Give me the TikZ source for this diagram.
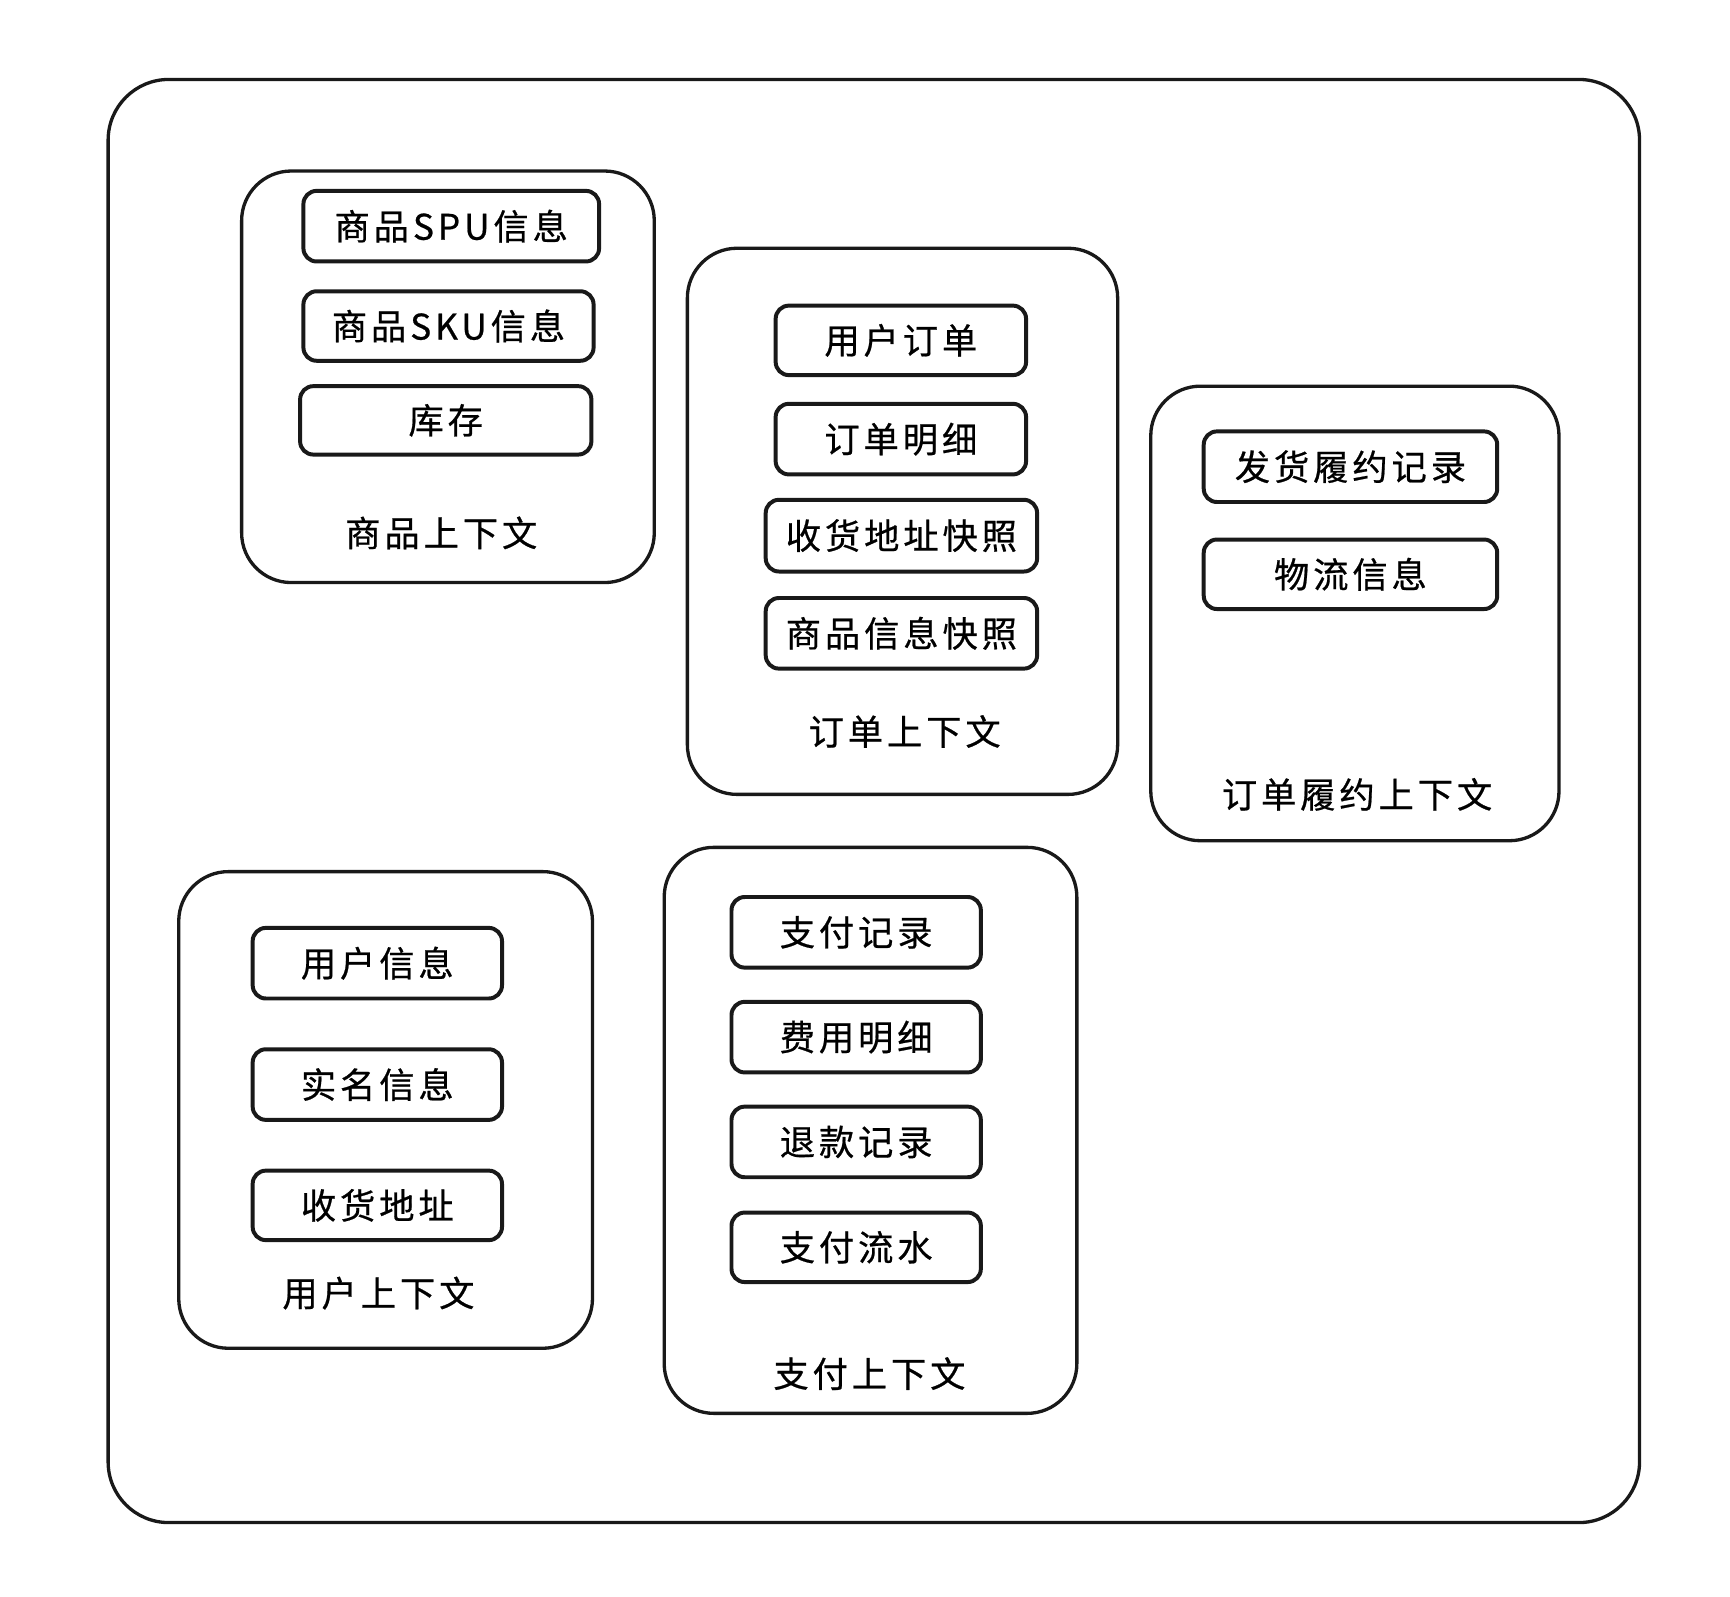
\documentclass[tikz,border=0pt]{standalone}
\usepackage{fontspec}
\newfontfamily\cjk[LetterSpace=11,FakeBold=0.6]{Noto Sans CJK SC}
\begin{document}
\begin{tikzpicture}[x=1pt,y=-1pt,
  outerbox/.style={draw=black!90,line width=3pt,rounded corners=55pt},
  ctxbox/.style={draw=black!90,line width=3pt,rounded corners=45pt,inner sep=0pt},
  item/.style={draw=black!90,line width=3.6pt,rounded corners=12pt,inner sep=0pt,font=\cjk\fontsize{32}{36}\selectfont},
  ctxlabel/.style={inner sep=0pt,font=\cjk\fontsize{32}{36}\selectfont}]
\useasboundingbox (0,0) rectangle (1568,1447);
\draw[outerbox] (98,72) rectangle (1486,1380);
% product context
\node[ctxbox,minimum width=374pt,minimum height=373pt] (ctxP) at (406,341.5) {};
\node[item,minimum width=268pt,minimum height=64pt] (spu) at (409,205) {商品SPU信息};
\node[item,minimum width=263pt,minimum height=63pt] (sku) at (406.5,295.5) {商品SKU信息};
\node[item,minimum width=264pt,minimum height=62pt] (stock) at (404,381) {库存};
\node[ctxlabel] (lP) at (400,483) {商品上下文};
% order context
\node[ctxbox,minimum width=390pt,minimum height=495pt] (ctxO) at (818,472.5) {};
\node[item,minimum width=227pt,minimum height=63pt] (uo) at (816.5,308.5) {用户订单};
\node[item,minimum width=227pt,minimum height=64pt] (od) at (816.5,398) {订单明细};
\node[item,minimum width=246pt,minimum height=65pt] (as) at (817,485.5) {收货地址快照};
\node[item,minimum width=246pt,minimum height=64pt] (ps) at (817,574) {商品信息快照};
\node[ctxlabel] (lO) at (820,663) {订单上下文};
% fulfilment context
\node[ctxbox,minimum width=370pt,minimum height=412pt] (ctxF) at (1228,556) {};
\node[item,minimum width=266pt,minimum height=64pt] (fr) at (1224,423) {发货履约记录};
\node[item,minimum width=266pt,minimum height=63pt] (lg) at (1224,520.5) {物流信息};
\node[ctxlabel] (lF) at (1230,720) {订单履约上下文};
% user context
\node[ctxbox,minimum width=375pt,minimum height=432pt] (ctxU) at (349.5,1006) {};
\node[item,minimum width=226pt,minimum height=64pt] (ui) at (342,873) {用户信息};
\node[item,minimum width=226pt,minimum height=64pt] (ri) at (342,983) {实名信息};
\node[item,minimum width=226pt,minimum height=63pt] (ad) at (342,1092.5) {收货地址};
\node[ctxlabel] (lU) at (343,1172) {用户上下文};
% payment context
\node[ctxbox,minimum width=374pt,minimum height=513pt] (ctxY) at (789,1024.5) {};
\node[item,minimum width=226pt,minimum height=64pt] (pr) at (776,845) {支付记录};
\node[item,minimum width=226pt,minimum height=64pt] (fd) at (776,940) {费用明细};
\node[item,minimum width=226pt,minimum height=64pt] (rr) at (776,1035) {退款记录};
\node[item,minimum width=226pt,minimum height=63pt] (pf) at (776,1130.5) {支付流水};
\node[ctxlabel] (lY) at (788,1245) {支付上下文};
\end{tikzpicture}
\end{document}
